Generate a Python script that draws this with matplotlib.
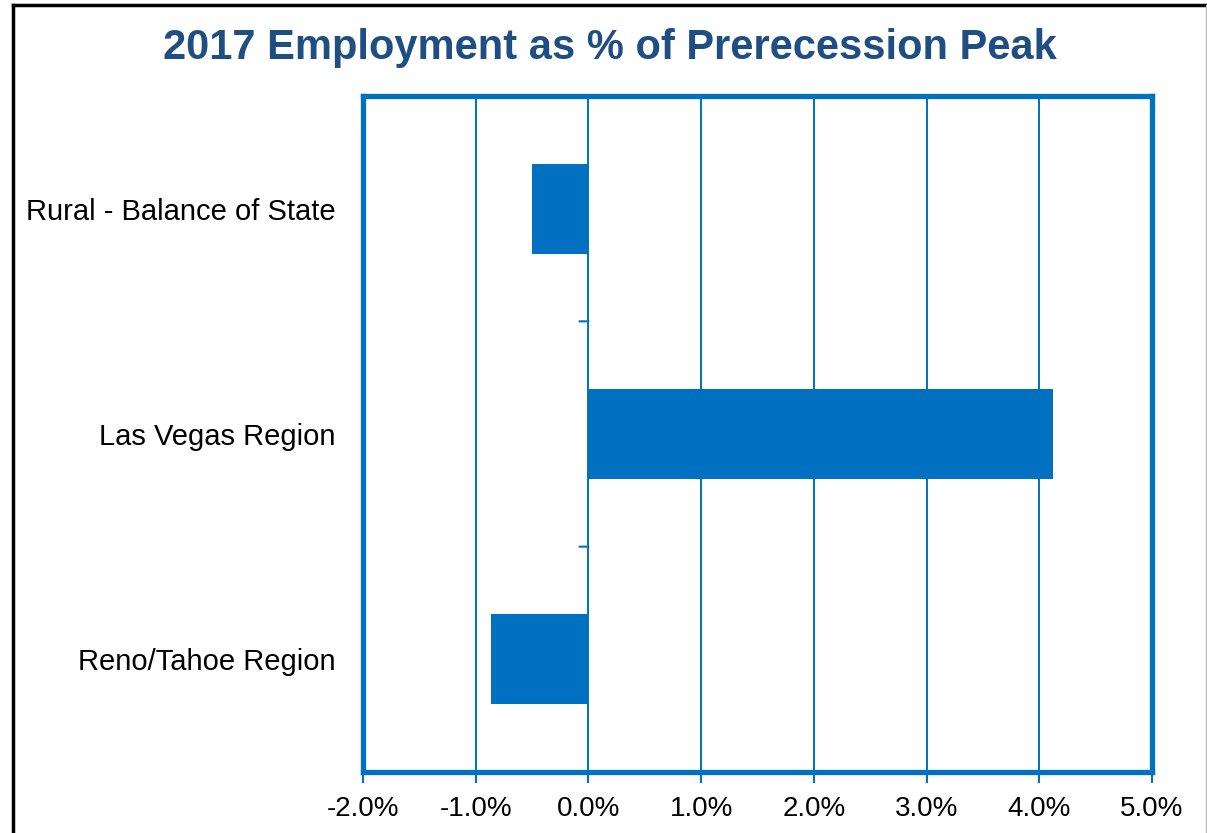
import matplotlib
matplotlib.use("Agg")
import matplotlib.pyplot as plt
from matplotlib.lines import Line2D

plt.rcParams['font.family'] = ['Liberation Sans', 'DejaVu Sans']

categories = ["Rural - Balance of State", "Las Vegas Region", "Reno/Tahoe Region"]
values = [-0.50, 4.12, -0.86]
xticks = [-2.0, -1.0, 0.0, 1.0, 2.0, 3.0, 4.0, 5.0]
xtick_labels = ["-2.0%", "-1.0%", "0.0%", "1.0%", "2.0%", "3.0%", "4.0%", "5.0%"]
title = "2017 Employment as % of Prerecession Peak"

blue = "#0070C0"
title_color = "#1F4E83"

fig = plt.figure(figsize=(12.07, 8.33), dpi=100)
ax = fig.add_axes([363/1207, 1-772/833, (1152-363)/1207, (772-96)/833])

pos = list(range(len(categories)))
ax.barh(pos, values, height=0.4, color=blue, zorder=3)
ax.set_ylim(len(categories)-0.5, -0.5)
ax.set_xlim(xticks[0], xticks[-1])

ax.set_xticks(xticks)
ax.set_xticklabels(xtick_labels, fontsize=20)
ax.set_yticks(pos)
ax.set_yticklabels(categories, fontsize=21)
ax.tick_params(axis='y', length=0, pad=20)
ax.tick_params(axis='x', length=8, width=1.5, color=blue, pad=9)
for x in xticks:
    ax.axvline(x, color=blue, lw=1.4, zorder=1)
for sp in ax.spines.values():
    sp.set_color(blue)
    sp.set_linewidth(3.8)
    sp.set_capstyle('projecting')

# category boundary ticks on the zero axis
for b in [p + 0.5 for p in pos[:-1]]:
    ax.annotate("", xy=(0, b), xytext=(-9, 0), textcoords='offset pixels',
                xycoords='data',
                arrowprops=dict(arrowstyle='-', color=blue, lw=1.5, shrinkA=0, shrinkB=0))

fig.text(610/1207, 1-48/833, title, ha='center', va='center', fontsize=30,
         fontweight='bold', color=title_color)

# outer border
fig.add_artist(Line2D([13/1207, 13/1207], [0, 1-5/833], color='black', lw=2.5, transform=fig.transFigure))
fig.add_artist(Line2D([13/1207, 1206/1207], [1-5/833, 1-5/833], color='black', lw=2.5, transform=fig.transFigure))
fig.add_artist(Line2D([1206/1207, 1206/1207], [0, 1-5/833], color='#bbbbbb', lw=1, transform=fig.transFigure))

fig.savefig("out.png", dpi=100)
